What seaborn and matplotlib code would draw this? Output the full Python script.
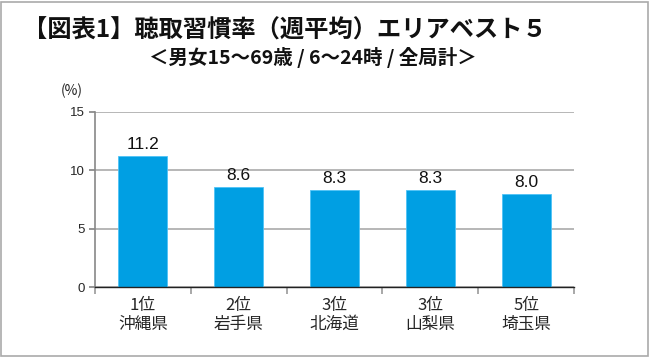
import matplotlib
matplotlib.use("Agg")
import matplotlib.pyplot as plt
import seaborn as sns
import pandas as pd
from matplotlib.patches import Rectangle

ranks = ["1位", "2位", "3位", "3位", "5位"]
areas = ["沖縄県", "岩手県", "北海道", "山梨県", "埼玉県"]
values = [11.2, 8.6, 8.3, 8.3, 8.0]
yticks = [0, 5, 10, 15]

sns.set_theme(style="white")
plt.rcParams['font.family'] = ['Noto Sans CJK JP', 'DejaVu Sans']

labels = [f"{r}\n{a}" for r, a in zip(ranks, areas)]
df = pd.DataFrame({"label": labels, "value": values})

fig = plt.figure(figsize=(6.5, 3.57), dpi=100)
ax = fig.add_axes([95/650, 1 - 287/357, (574-95)/650, (287-112)/357])

sns.barplot(data=df, x="label", y="value", color="#009FE3", saturation=1,
            width=0.51, ax=ax, edgecolor="#4FC3F7", linewidth=0.6)

ax.set_ylim(0, 15)
ax.set_xlim(-0.5, len(values) - 0.5)
ax.set_yticks(yticks)
ax.set_yticklabels([str(t) for t in yticks], fontsize=9.5, family=['Liberation Sans', 'DejaVu Sans'])
ax.yaxis.grid(True, color="#AAAAAA", linewidth=1.2)
ax.set_axisbelow(True)
ax.set_xlabel("")
ax.set_ylabel("")
for s in ["top", "right"]:
    ax.spines[s].set_visible(False)
ax.spines["left"].set_color("#888888")
ax.spines["left"].set_linewidth(1.2)
ax.spines["bottom"].set_color("#222222")
ax.spines["bottom"].set_linewidth(1.0)

ax.tick_params(axis="y", length=4, color="#888888", pad=3, left=True)
ax.tick_params(axis="x", which="major", length=0, pad=7, labelsize=12)
ax.set_xticks([i - 0.5 for i in range(len(values) + 1)], minor=True)
ax.tick_params(axis="x", which="minor", length=5, color="#999999", width=1.2, bottom=True)
for lab in ax.get_xticklabels():
    lab.set_linespacing(1.15)

for i, v in enumerate(values):
    ax.text(i, v + 0.35, f"{v:.1f}", ha="center", va="bottom", fontsize=12.5,
            family=['Liberation Sans', 'DejaVu Sans'], color="#111111")

fig.text(72/650, 1 - 91/357, "(%)", ha="center", va="center", fontsize=10, color="#222222")

fig.text(23/650, 1 - 31/357, "【図表1】聴取習慣率（週平均）エリアベスト５", ha="left", va="center",
         fontsize=17.5, fontweight="bold", color="#111111")
fig.text(313/650, 1 - 58/357, "＜男女15～69歳 / 6～24時 / 全局計＞", ha="center", va="center",
         fontsize=14, fontweight="bold", color="#111111")

fig.add_artist(Rectangle((1/650, 1/357), 647/650, 354/357, transform=fig.transFigure,
                         fill=False, edgecolor="#AAAAAA", linewidth=1.2))

fig.savefig("out.png", dpi=100)
